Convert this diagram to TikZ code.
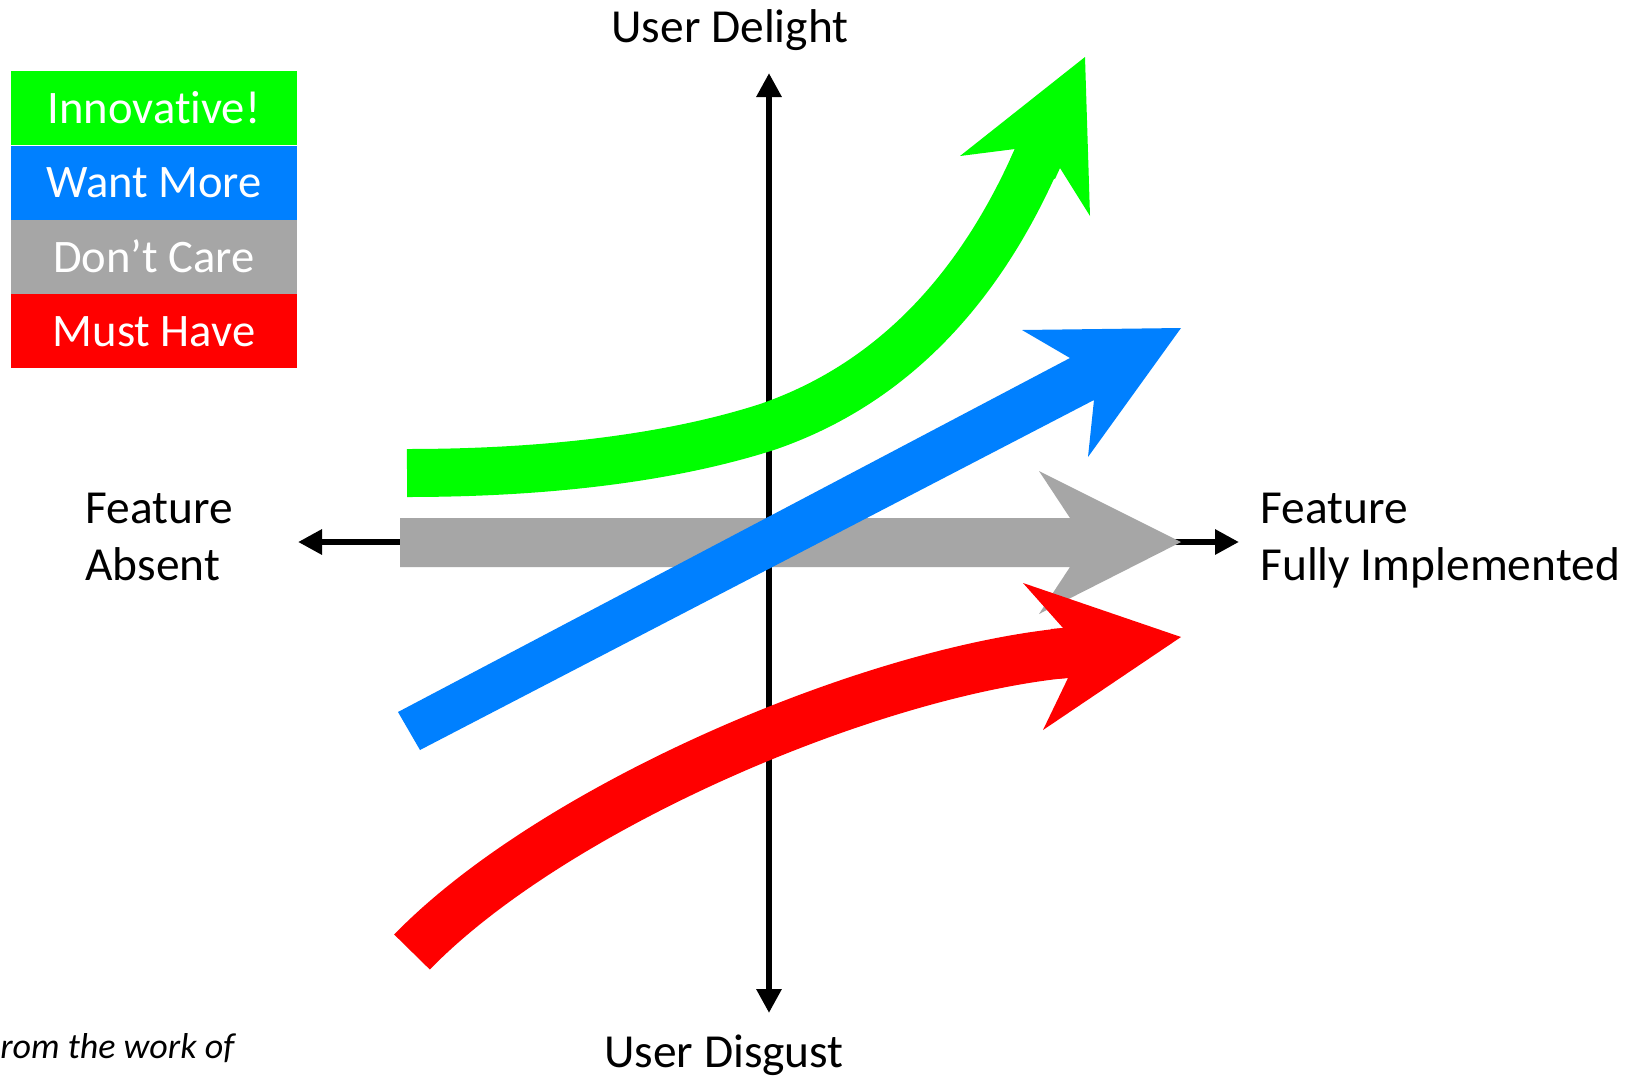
\documentclass[tikz,border=0pt]{standalone}
\usepackage{fontspec}
\setmainfont{Carlito}[Ligatures=NoCommon]
\usetikzlibrary{arrows.meta}
\definecolor{kgreen}{RGB}{0,255,0}
\definecolor{kblue}{RGB}{0,128,255}
\definecolor{kgray}{RGB}{166,166,166}
\definecolor{kred}{RGB}{255,0,0}
\begin{document}
\begin{tikzpicture}[x=0.5pt,y=-0.5pt,
  axisline/.style={line width=3pt,
    {Triangle[length=12pt,width=12pt]}-{Triangle[length=12pt,width=12pt]}},
  lbl/.style={inner sep=0pt, font=\fontsize{23.7pt}{28.5pt}\selectfont},
  legbox/.style={inner sep=0pt, minimum width=143pt, minimum height=37pt,
    text=white, text height=15pt, text depth=0pt,
    font=\fontsize{23.3pt}{27pt}\selectfont},
  credit/.style={inner sep=0pt, font=\fontsize{18pt}{21pt}\selectfont\itshape}
]
\fill[white] (0,0) rectangle (1629,1077);
\useasboundingbox (0,0) rectangle (1629,1077);

% axes
\coordinate (top) at (769,73);
\coordinate (bot) at (769,1013);
\coordinate (left) at (298,542);
\coordinate (right) at (1239,542);
\draw[axisline] (bot) -- (top);
\draw[axisline] (left) -- (right);

% gray arrow (Don't Care)
\fill[kgray] (400,518) -- (1070,518) -- (1039,471) -- (1181,542) -- (1039,614)
  -- (1070,567) -- (400,567) -- cycle;

% green arrow (Innovative)
\draw[kgreen, line width=24pt] (407,473) .. controls (560,473) and (680,455) .. (767,427)
  .. controls (910,378) and (990,265) .. (1037,158);
\fill[kgreen] (1015,149) -- (960,156) -- (1085,57) -- (1090,216) -- (1060,168)
  -- (1055,179) -- (1010,160) -- cycle;

% blue arrow (Want More)
\fill[kblue] (398,712) -- (1070,358) -- (1022,330) -- (1181,328) -- (1088,457)
  -- (1094,400) -- (420,750) -- cycle;

% red arrow (Must Have)
\draw[kred, line width=25pt] (412,952) .. controls (552,808) and (866,673) .. (1065,653);
\fill[kred] (1063,628) -- (1023,583) -- (1181,637) -- (1043,730) -- (1068,678)
  -- (1056,679) -- (1051,629) -- cycle;

% axis labels
\node[lbl, anchor=base] (delight) at (730,42) {User Delight};
\node[lbl, anchor=base] (disgust) at (724,1067) {User Disgust};
\node[lbl, anchor=base west] (absent1) at (85,523) {Feature};
\node[lbl, anchor=base west] (absent2) at (85,580) {Absent};
\node[lbl, anchor=base west] (full1) at (1260,523) {Feature};
\node[lbl, anchor=base west] (full2) at (1260,580) {Fully Implemented};

% legend
\node[legbox, fill=kgreen] (leg1) at (154,108) {Innovative!};
\node[legbox, fill=kblue] (leg2) at (154,182.5) {Want More};
\node[legbox, fill=kgray] (leg3) at (154,257) {Don’t Care};
\node[legbox, fill=kred] (leg4) at (154,331) {Must Have};

% credit
\node[credit, anchor=base west] (cred) at (0,1058) {rom the work of};
\end{tikzpicture}
\end{document}
